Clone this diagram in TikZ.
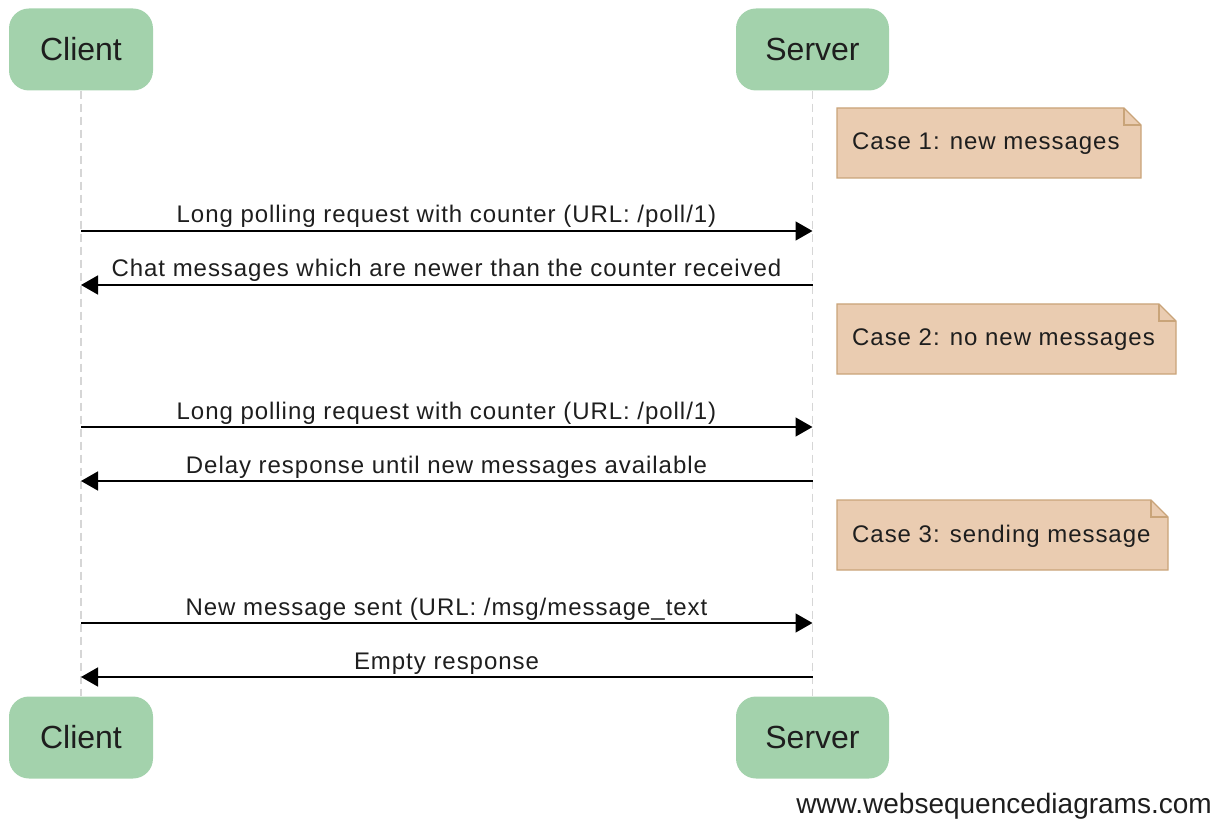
\documentclass[tikz,border=0pt]{standalone}
\usepackage{fontspec}
\setmainfont{Liberation Sans}
\newfontfamily\msgfont[LetterSpace=4]{Liberation Sans}
\usetikzlibrary{arrows.meta,calc}
\definecolor{actorfill}{HTML}{A3D2AC}
\definecolor{notefill}{HTML}{EACCB1}
\definecolor{notedraw}{HTML}{C9A479}
\definecolor{lifegray}{HTML}{D6D6D6}
\definecolor{txt}{HTML}{1E1E1E}
\begin{document}
\begin{tikzpicture}[x=1pt,y=1pt,
  actor/.style={fill=actorfill,draw=none,rounded corners=20pt,minimum height=82pt,inner sep=0pt,text=txt,font=\fontsize{32}{36}\selectfont},
  life/.style={draw=lifegray,line width=1.3pt,dash pattern=on 8pt off 5pt},
  msg/.style={text=txt,font=\msgfont\fontsize{24}{28}\selectfont,inner sep=0pt,anchor=base},
  msgarrow/.style={draw=black,line width=1.6pt,-{Triangle[length=17pt,width=19pt]}},
  notebox/.style={text=txt,font=\msgfont\fontsize{24}{28}\selectfont,inner xsep=0pt,inner ysep=0pt,anchor=west},
  notestyle/.style={fill=notefill,draw=notedraw,line width=1.3pt,line join=miter}
]
\path[use as bounding box] (0,0) rectangle (1227,-821);

% actors
\node[actor,minimum width=144pt] (ctop) at (81,-49.5) {Client};
\node[actor,minimum width=153pt] (stop) at (812.5,-49.5) {Server};
\node[actor,minimum width=144pt] (cbot) at (81,-737.5) {Client};
\node[actor,minimum width=153pt] (sbot) at (812.5,-737.5) {Server};

% lifelines
\draw[life] (ctop.south) -- (cbot.north);
\draw[life] (stop.south) -- (sbot.north);

% notes
\newcommand{\mynote}[5]{%
  % #1 name, #2 x left, #3 x right, #4 y top, #5 text
  \coordinate (#1nw) at (#2,#4);
  \coordinate (#1se) at (#3,#4-70);
  \draw[notestyle] (#1nw) -- ($(#1nw-|#1se)+(-17,0)$) -- ($(#1nw-|#1se)+(0,-17)$) -- (#1se) -- (#1se-|#1nw) -- cycle;
  \draw[notedraw,line width=1.1pt] ($(#1nw-|#1se)+(-17,0)$) -- ($(#1nw-|#1se)+(-17,-17)$) -- ($(#1nw-|#1se)+(0,-17)$);
  \node[notebox] (#1) at ($(#2,#4-36)+(15,0)$) {#5};
}
\mynote{n1}{837}{1141}{-108}{Case 1: new messages}
\mynote{n2}{837}{1176}{-304}{Case 2: no new messages}
\mynote{n3}{837}{1168}{-500}{Case 3: sending message}

% message endpoints
\foreach \i/\y in {1/231,2/285,3/427,4/481,5/623,6/677}{
  \coordinate (c\i) at (81,-\y);
  \coordinate (s\i) at (812.5,-\y);
}

\draw[msgarrow] (c1) -- (s1);
\node[msg] (m1) at (446.5,-223) {Long polling request with counter (URL: /poll/1)};
\draw[msgarrow] (s2) -- (c2);
\node[msg] (m2) at (446.5,-277) {Chat messages which are newer than the counter received};
\draw[msgarrow] (c3) -- (s3);
\node[msg] (m3) at (446.5,-419) {Long polling request with counter (URL: /poll/1)};
\draw[msgarrow] (s4) -- (c4);
\node[msg] (m4) at (446.5,-473) {Delay response until new messages available};
\draw[msgarrow] (c5) -- (s5);
\node[msg] (m5) at (446.5,-615) {New message sent (URL: /msg/message\_text};
\draw[msgarrow] (s6) -- (c6);
\node[msg] (m6) at (446.5,-669) {Empty response};

% watermark
\node[text=txt,font=\fontsize{28}{32}\selectfont,inner sep=0pt,anchor=base east] (wm) at (1212,-813) {www.websequencediagrams.com};
\end{tikzpicture}
\end{document}
